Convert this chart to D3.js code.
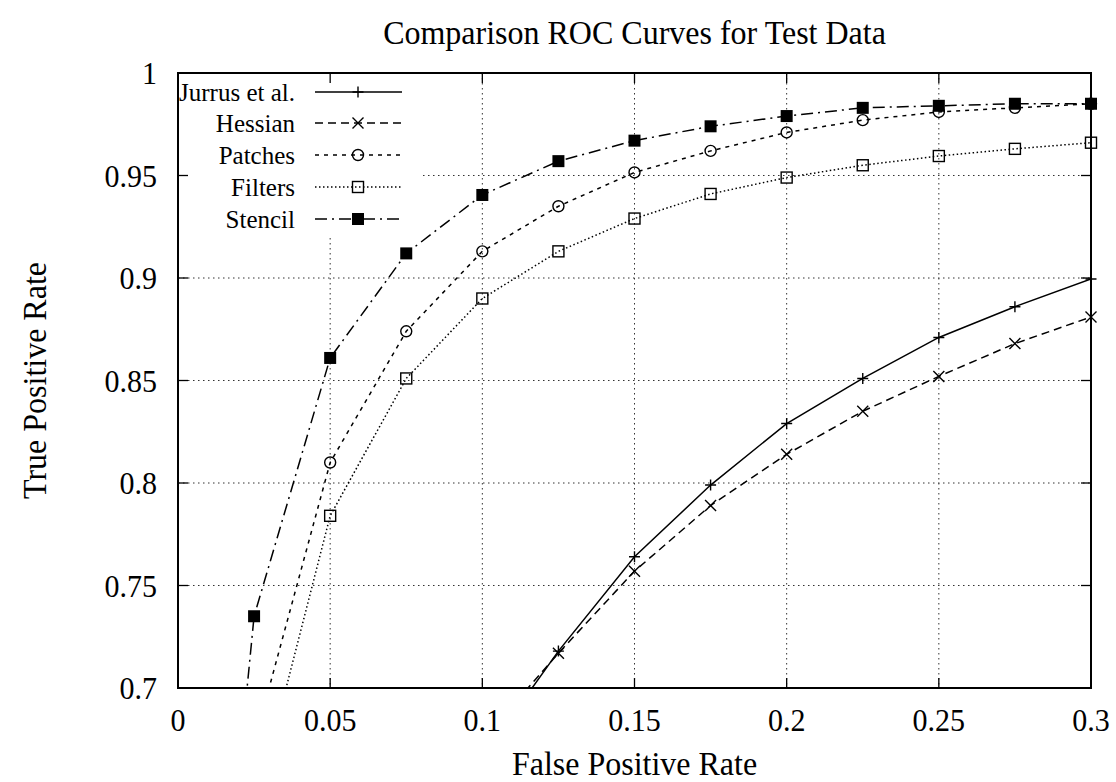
<!DOCTYPE html>
<html>
<head>
<meta charset="utf-8">
<script src="https://cdn.jsdelivr.net/npm/d3@7"></script>
<style>
  html, body { margin: 0; padding: 0; background: #fff; }
  svg { display: block; }
  text { font-family: "Liberation Serif", "Times New Roman", serif; fill: #000; }
</style>
</head>
<body>
<svg id="chart" width="1116" height="782"></svg>
<script>
// ---- data ----
const fpr = [0, 0.025, 0.05, 0.075, 0.1, 0.125, 0.15, 0.175, 0.2, 0.225, 0.25, 0.275, 0.3];
const jurrus  = [null, null, null, null, 0.666, 0.718, 0.764, 0.799, 0.829, 0.851, 0.871, 0.886, 0.8995];
const hessian = [null, null, null, null, 0.6745, 0.717, 0.757, 0.789, 0.814, 0.835, 0.852, 0.868, 0.881];
const patches = [null, 0.673, 0.810, 0.874, 0.913, 0.935, 0.9515, 0.962, 0.971, 0.977, 0.981, 0.983, 0.985];
const filters = [null, 0.639, 0.784, 0.851, 0.890, 0.913, 0.929, 0.941, 0.949, 0.955, 0.9595, 0.963, 0.966];
const stencil = [0.355, 0.735, 0.861, 0.912, 0.9405, 0.957, 0.967, 0.974, 0.979, 0.983, 0.984, 0.985, 0.985];
const seriesNames = ["Jurrus et al.", "Hessian", "Patches", "Filters", "Stencil"];
const xTicks = [0, 0.05, 0.1, 0.15, 0.2, 0.25, 0.3];
const xTickLabels = ["0", "0.05", "0.1", "0.15", "0.2", "0.25", "0.3"];
const yTicks = [0.7, 0.75, 0.8, 0.85, 0.9, 0.95, 1];
const yTickLabels = ["0.7", "0.75", "0.8", "0.85", "0.9", "0.95", "1"];
const titleText = "Comparison ROC Curves for Test Data";
const xTitle = "False Positive Rate";
const yTitle = "True Positive Rate";

// ---- styles ----
const styles = [
  { dash: null,          marker: "plus"   },
  { dash: "8,5",         marker: "cross"  },
  { dash: "4,5",         marker: "circle" },
  { dash: "1.5,2.5",     marker: "square" },
  { dash: "12,5,2,5",    marker: "fsquare"}
];
const allSeries = [jurrus, hessian, patches, filters, stencil];

const svg = d3.select("#chart");
const L = 178, R = 1091, T = 73, B = 688;
const x = d3.scaleLinear().domain([0, 0.3]).range([L, R]);
const y = d3.scaleLinear().domain([0.7, 1]).range([B, T]);

// grid
const grid = svg.append("g").attr("stroke", "#333").attr("stroke-width", 1).attr("stroke-dasharray", "1.5,3.5");
grid.selectAll("line.gx").data(xTicks.slice(1, -1)).join("line")
  .attr("x1", d => x(d)).attr("x2", d => x(d)).attr("y1", T).attr("y2", B);
grid.selectAll("line.gy").data(yTicks.slice(1, -1)).join("line")
  .attr("y1", d => y(d)).attr("y2", d => y(d)).attr("x1", L).attr("x2", R);

// legend background (opaque key)
svg.append("rect").attr("x", L).attr("y", T).attr("width", 242).attr("height", 162).attr("fill", "#fff");

// axes (inward ticks, mirrored)
const tickLen = 10;
const ax = svg.append("g").attr("stroke", "#000").attr("stroke-width", 1.3);
xTicks.forEach(t => {
  ax.append("line").attr("x1", x(t)).attr("x2", x(t)).attr("y1", B).attr("y2", B - tickLen);
  ax.append("line").attr("x1", x(t)).attr("x2", x(t)).attr("y1", T).attr("y2", T + tickLen);
});
yTicks.forEach(t => {
  ax.append("line").attr("y1", y(t)).attr("y2", y(t)).attr("x1", L).attr("x2", L + tickLen);
  ax.append("line").attr("y1", y(t)).attr("y2", y(t)).attr("x1", R).attr("x2", R - tickLen);
});
svg.append("rect").attr("x", L).attr("y", T).attr("width", R - L).attr("height", B - T)
  .attr("fill", "none").attr("stroke", "#000").attr("stroke-width", 2);

// tick labels (slightly tall glyphs as in the reference)
svg.append("g").selectAll("text").data(xTicks).join("text")
  .attr("transform", d => `translate(${x(d)},${B + 43}) scale(1,1.08)`).attr("text-anchor", "middle")
  .attr("font-size", 30).text((d, i) => xTickLabels[i]);
svg.append("g").selectAll("text").data(yTicks).join("text")
  .attr("transform", d => `translate(157,${y(d)}) scale(1,1.08)`).attr("dy", "0.35em").attr("text-anchor", "end")
  .attr("font-size", 30).text((d, i) => yTickLabels[i]);

// titles
svg.append("text").attr("transform", `translate(${(L + R) / 2},44) scale(1,1.05)`).attr("text-anchor", "middle")
  .attr("font-size", 32).text(titleText);
svg.append("text").attr("transform", `translate(${(L + R) / 2},775) scale(1,1.05)`).attr("text-anchor", "middle")
  .attr("font-size", 32).text(xTitle);
svg.append("text").attr("transform", `translate(46,${(T + B) / 2}) rotate(-90) scale(1,1.05)`)
  .attr("text-anchor", "middle").attr("font-size", 32).text(yTitle);

// clip
svg.append("clipPath").attr("id", "plotclip").append("rect")
  .attr("x", L).attr("y", T).attr("width", R - L).attr("height", B - T);

const line = d3.line().defined(d => d[1] != null).x(d => x(d[0])).y(d => y(d[1]));

function drawMarker(g, type, cx, cy) {
  const s = 5.5;
  if (type === "plus") {
    g.append("path").attr("d", `M${cx - s},${cy}H${cx + s}M${cx},${cy - s}V${cy + s}`)
      .attr("stroke", "#000").attr("stroke-width", 1.4).attr("fill", "none");
  } else if (type === "cross") {
    g.append("path").attr("d", `M${cx - s},${cy - s}L${cx + s},${cy + s}M${cx - s},${cy + s}L${cx + s},${cy - s}`)
      .attr("stroke", "#000").attr("stroke-width", 1.4).attr("fill", "none");
  } else if (type === "circle") {
    g.append("circle").attr("cx", cx).attr("cy", cy).attr("r", 5.5)
      .attr("stroke", "#000").attr("stroke-width", 1.4).attr("fill", "none");
  } else if (type === "square") {
    g.append("rect").attr("x", cx - 5.5).attr("y", cy - 5.5).attr("width", 11).attr("height", 11)
      .attr("stroke", "#000").attr("stroke-width", 1.4).attr("fill", "none");
  } else if (type === "fsquare") {
    g.append("rect").attr("x", cx - 6).attr("y", cy - 6).attr("width", 12).attr("height", 12)
      .attr("fill", "#000");
  }
}

allSeries.forEach((vals, si) => {
  const pts = fpr.map((f, i) => [f, vals[i]]);
  const st = styles[si];
  svg.append("path").datum(pts).attr("clip-path", "url(#plotclip)")
    .attr("d", line).attr("fill", "none").attr("stroke", "#000").attr("stroke-width", 1.5)
    .attr("stroke-dasharray", st.dash);
  const mg = svg.append("g");
  pts.filter(p => p[1] != null && p[1] >= 0.7 && p[1] <= 1).forEach(p => drawMarker(mg, st.marker, x(p[0]), y(p[1])));
});

// legend
const legRows = [92, 123, 155, 187, 219];
seriesNames.forEach((name, i) => {
  const ly = legRows[i];
  svg.append("text").attr("x", 295).attr("y", ly).attr("dy", "0.35em").attr("text-anchor", "end")
    .attr("font-size", 25).text(name);
  svg.append("line").attr("x1", 315).attr("x2", 402).attr("y1", ly).attr("y2", ly)
    .attr("stroke", "#000").attr("stroke-width", 1.5).attr("stroke-dasharray", styles[i].dash);
  drawMarker(svg.append("g"), styles[i].marker, 358, ly);
});
</script>
</body>
</html>
